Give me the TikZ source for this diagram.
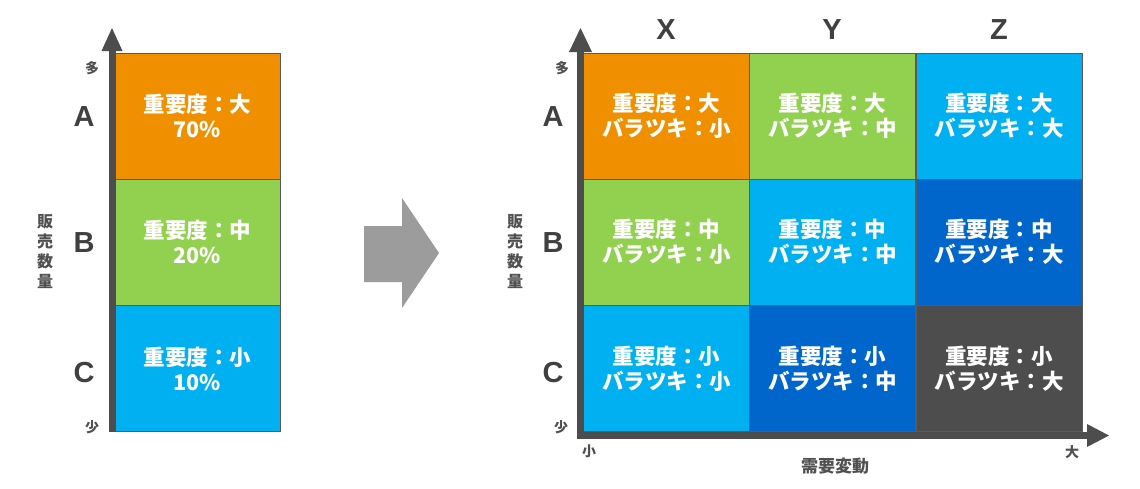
\documentclass[tikz,border=0pt]{standalone}
\usepackage{fontspec}
\setmainfont{Noto Sans CJK JP}
\newfontfamily\lat{Liberation Sans}
\definecolor{cOrange}{HTML}{F08F00}
\definecolor{cGreen}{HTML}{92D050}
\definecolor{cLight}{HTML}{00B0F0}
\definecolor{cDark}{HTML}{0066CC}
\definecolor{cGray}{HTML}{4D4D4D}
\definecolor{axisgray}{HTML}{4D4D4D}
\definecolor{txtgray}{HTML}{404040}
\definecolor{lbgray}{HTML}{505050}
\definecolor{cellline}{HTML}{5A5A5A}
\definecolor{bigarrow}{HTML}{9C9C9C}
\begin{document}
\begin{tikzpicture}[x=1pt,y=-1pt,
  cell/.style={draw=cellline, line width=0.8pt, minimum width=166pt, minimum height=126pt,
    inner sep=0pt, text=white, font=\fontsize{21.5}{25}\selectfont\bfseries, align=center},
  lcell/.style={cell, minimum width=165pt},
  axisline/.style={draw=axisgray, line width=7pt},
  axishead/.style={fill=axisgray},
  biglbl/.style={text=txtgray, font=\lat\fontsize{29}{30}\selectfont\bfseries, inner sep=0pt},
  smalllbl/.style={text=lbgray, font=\fontsize{14}{15}\selectfont\bfseries, inner sep=0pt},
  vlbl/.style={text=lbgray, font=\fontsize{16}{20}\selectfont\bfseries, align=center, inner sep=0pt},
  xlbl/.style={text=lbgray, font=\fontsize{17}{18}\selectfont\bfseries, inner sep=0pt}]
\useasboundingbox (0,0) rectangle (1140,488);

% ---------- left chart ----------
\node[lcell, fill=cOrange] (la) at (197.5,116) {重要度：大\\70\%};
\node[lcell, fill=cGreen]  (lb) at (197.5,242) {重要度：中\\20\%};
\node[lcell, fill=cLight]  (lc) at (197.5,368.5) {重要度：小\\10\%};

\coordinate (lax0) at (112,432);
\coordinate (lax1) at (112,50);
\draw[axisline] (lax0) -- (lax1);
\fill[axishead] (101.5,51) -- (112,28) -- (122.5,51) -- cycle;

\node[biglbl] (lA) at (84,117) {A};
\node[biglbl] (lB) at (84,243) {B};
\node[biglbl] (lC) at (84,373) {C};
\node[smalllbl] (lmany) at (92,68) {多};
\node[smalllbl] (lfew) at (92,427) {少};
\node[vlbl] (lv) at (45,252) {販\\売\\数\\量};

% ---------- big arrow ----------
\fill[bigarrow] (364,226) -- (402,226) -- (402,198) -- (439,253) -- (402,308) -- (402,282) -- (364,282) -- cycle;

% ---------- right chart ----------
\node[cell, fill=cOrange] (xa) at (666.5,116) {重要度：大\\バラツキ：小};
\node[cell, fill=cGreen]  (ya) at (832.5,116) {重要度：大\\バラツキ：中};
\node[cell, fill=cLight]  (za) at (999,116)   {重要度：大\\バラツキ：大};
\node[cell, fill=cGreen]  (xb) at (666.5,242) {重要度：中\\バラツキ：小};
\node[cell, fill=cLight]  (yb) at (832.5,242) {重要度：中\\バラツキ：中};
\node[cell, fill=cDark]   (zb) at (999,242)   {重要度：中\\バラツキ：大};
\node[cell, fill=cLight]  (xc) at (666.5,368.5) {重要度：小\\バラツキ：小};
\node[cell, fill=cDark]   (yc) at (832.5,368.5) {重要度：小\\バラツキ：中};
\node[cell, fill=cGray]   (zc) at (999,368.5)   {重要度：小\\バラツキ：大};

\coordinate (rv0) at (580.5,439);
\coordinate (rv1) at (580.5,51);
\draw[axisline] (rv0) -- (rv1);
\fill[axishead] (569,52) -- (580.5,28) -- (592,52) -- cycle;

\coordinate (rh0) at (577,435.5);
\coordinate (rh1) at (1088,435.5);
\draw[axisline] (rh0) -- (rh1);
\fill[axishead] (1087,424) -- (1109,435.5) -- (1087,447) -- cycle;

\node[biglbl] (rA) at (553,117) {A};
\node[biglbl] (rB) at (553,243) {B};
\node[biglbl] (rC) at (553,373) {C};
\node[biglbl] (cX) at (666,30) {X};
\node[biglbl] (cY) at (832,30) {Y};
\node[biglbl] (cZ) at (999,30) {Z};
\node[smalllbl] (rmany) at (562,68) {多};
\node[smalllbl] (rfew) at (561,427) {少};
\node[smalllbl] (rsmall) at (589,451) {小};
\node[smalllbl] (rbig) at (1072,452) {大};
\node[vlbl] (rv) at (515,252) {販\\売\\数\\量};
\node[xlbl] (rx) at (835,466) {需要変動};
\end{tikzpicture}
\end{document}
